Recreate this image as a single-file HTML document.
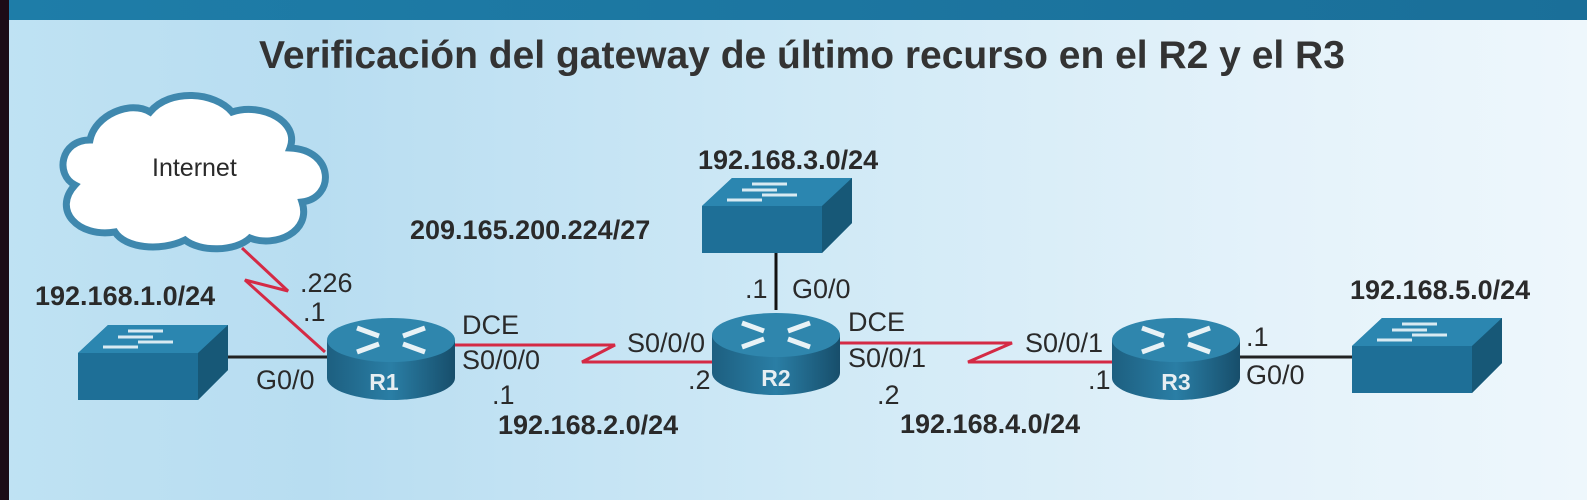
<!DOCTYPE html>
<html><head><meta charset="utf-8"><style>
body{margin:0;width:1587px;height:500px;overflow:hidden;font-family:"Liberation Sans",sans-serif;}
.bg{position:absolute;left:0;top:0;width:1587px;height:500px;background:linear-gradient(90deg,#bfe2f3 0%,#b8ddf1 20%,#cfe9f6 50%,#e4f2fa 80%,#eef7fc 100%);}
.t{position:absolute;color:#2a2a2a;font-size:27px;line-height:28px;white-space:nowrap;}
.b{font-weight:bold;font-size:27px;}
</style></head><body>
<div class="bg"></div>
<div style="position:absolute;left:0;top:0;width:9px;height:500px;background:#1c0c16"></div>
<div style="position:absolute;left:9px;top:0;width:1578px;height:20px;background:linear-gradient(90deg,#1e7da8,#1a6f99)"></div>
<div class="t b" style="left:259px;top:36px;font-size:39px;line-height:40px;color:#333">Verificación del gateway de último recurso en el R2 y el R3</div>
<svg width="1587" height="500" style="position:absolute;left:0;top:0">
<defs>
<linearGradient id="rg" x1="0" x2="1"><stop offset="0" stop-color="#1d5f80"/><stop offset="0.5" stop-color="#2a7ea5"/><stop offset="1" stop-color="#174e6b"/></linearGradient>
<g id="router">
<path d="M0 30 L0 68 A64 22 0 0 0 128 68 L128 30 Z" fill="url(#rg)"/>
<ellipse cx="64" cy="30" rx="64" ry="22" fill="#2f86ad"/>
<g stroke="#e8f2f6" stroke-width="5" fill="none">
<path d="M30 18 L52 26"/><path d="M98 18 L76 26"/><path d="M30 42 L52 34"/><path d="M98 42 L76 34"/>
</g>
</g>
<g id="switch">
<polygon points="0,28 30,0 150,0 150,45 120,75 0,75" fill="#1e6f97"/>
<polygon points="0,28 30,0 150,0 120,28" fill="#2b86b0"/>
<polygon points="120,28 150,0 150,45 120,75" fill="#175877"/>
<g stroke="#d8eaf2" stroke-width="3"><line x1="50" y1="6" x2="85" y2="6"/><line x1="40" y1="12" x2="75" y2="12"/><line x1="60" y1="17" x2="95" y2="17"/><line x1="25" y1="22" x2="60" y2="22"/></g>
</g>
</defs>
<path d="M75 185 C55 175 60 140 90 140 C95 115 130 100 150 112 C170 88 215 92 232 112 C262 102 300 122 290 148 C335 150 335 198 302 202 C312 232 275 248 250 238 C235 252 200 252 185 240 C160 252 125 248 115 232 C78 238 52 210 75 185 Z" fill="#fff" stroke="#3f88ae" stroke-width="7"/>
<line x1="225" y1="357" x2="330" y2="357" stroke="#222" stroke-width="3"/>
<line x1="776" y1="248" x2="776" y2="310" stroke="#111" stroke-width="3"/>
<line x1="1238" y1="357" x2="1352" y2="357" stroke="#222" stroke-width="3"/>
<polyline points="242,248 288,291 245,280 325,352" fill="none" stroke="#d42a45" stroke-width="3"/>
<polyline points="455,345 615,345 582,362 715,362" fill="none" stroke="#d42a45" stroke-width="3"/>
<polyline points="840,343 1012,343 968,362 1115,362" fill="none" stroke="#d42a45" stroke-width="3"/>
<use href="#router" x="327" y="310"/>
<use href="#router" x="712" y="305"/>
<use href="#router" x="1112" y="310"/>
<use href="#switch" x="78" y="325"/>
<use href="#switch" x="702" y="178"/>
<use href="#switch" x="1352" y="318"/>
<text x="384" y="390" fill="#e6eef2" font-size="23" font-weight="bold" font-family="Liberation Sans" text-anchor="middle">R1</text>
<text x="776" y="386" fill="#e6eef2" font-size="23" font-weight="bold" font-family="Liberation Sans" text-anchor="middle">R2</text>
<text x="1176" y="390" fill="#e6eef2" font-size="23" font-weight="bold" font-family="Liberation Sans" text-anchor="middle">R3</text>
</svg>
<div class="t" style="left:152px;top:154px;font-size:25px">Internet</div>
<div class="t b" style="left:35px;top:282px">192.168.1.0/24</div>
<div class="t" style="left:300px;top:269px">.226</div>
<div class="t" style="left:303px;top:298px">.1</div>
<div class="t" style="left:256px;top:366px">G0/0</div>
<div class="t b" style="left:410px;top:216px">209.165.200.224/27</div>
<div class="t b" style="left:698px;top:146px">192.168.3.0/24</div>
<div class="t" style="left:462px;top:311px">DCE</div>
<div class="t" style="left:462px;top:346px">S0/0/0</div>
<div class="t" style="left:492px;top:381px">.1</div>
<div class="t b" style="left:498px;top:411px">192.168.2.0/24</div>
<div class="t" style="left:627px;top:329px">S0/0/0</div>
<div class="t" style="left:688px;top:366px">.2</div>
<div class="t" style="left:745px;top:275px">.1</div>
<div class="t" style="left:792px;top:275px">G0/0</div>
<div class="t" style="left:848px;top:308px">DCE</div>
<div class="t" style="left:848px;top:344px">S0/0/1</div>
<div class="t" style="left:877px;top:381px">.2</div>
<div class="t b" style="left:900px;top:410px">192.168.4.0/24</div>
<div class="t" style="left:1025px;top:329px">S0/0/1</div>
<div class="t" style="left:1088px;top:366px">.1</div>
<div class="t" style="left:1246px;top:323px">.1</div>
<div class="t" style="left:1246px;top:361px">G0/0</div>
<div class="t b" style="left:1350px;top:276px">192.168.5.0/24</div>
</body></html>
